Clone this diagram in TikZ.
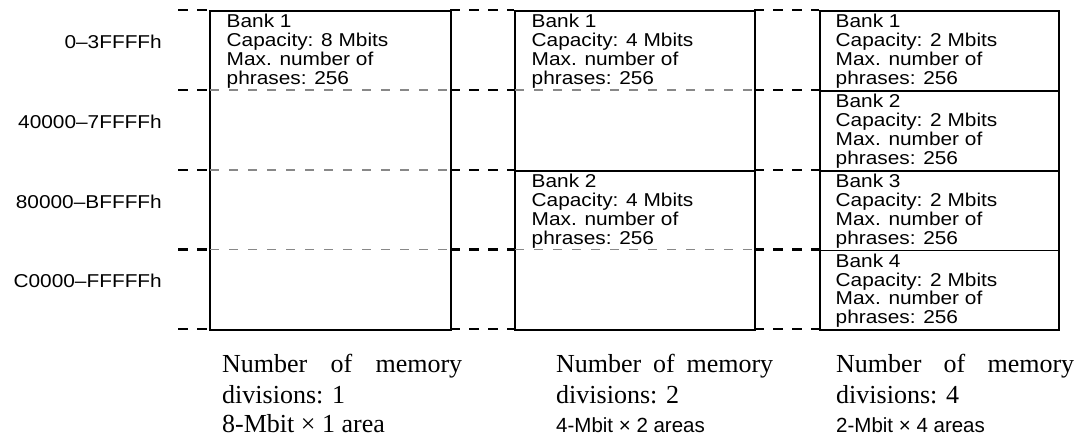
\documentclass[tikz,border=0pt]{standalone}
\usepackage{fontspec}
\newfontfamily\labfont[FakeStretch=1.12]{Liberation Sans}
\newfontfamily\plainsans{Liberation Sans}
\newfontfamily\capfont{Liberation Serif}
\definecolor{dgray}{RGB}{136,136,136}
\begin{document}
\begin{tikzpicture}[x=1pt,y=1pt,
  blk/.style={line width=2.3pt, dash pattern=on 10pt off 9pt},
  gry/.style={line width=1.9pt, draw=dgray, dash pattern=on 9pt off 10pt},
  boxst/.style={draw, line width=1.8pt, rectangle, inner sep=0pt, anchor=north west},
  banktxt/.style={font=\labfont\fontsize{18.6}{18.8}\selectfont, align=left, anchor=base west, inner sep=0pt},
  addr/.style={font=\labfont\fontsize{18.6}{18.8}\selectfont, anchor=base east, inner sep=0pt},
  capl/.style={font=\capfont\fontsize{26}{28}\selectfont, anchor=base west, inner sep=0pt},
  caps/.style={font=\plainsans\fontsize{20.5}{22}\selectfont, anchor=base west, inner sep=0pt}
]
\useasboundingbox (0,0) rectangle (1077,-437);

% black dashed level lines in the gaps
\foreach \y in {10,90,170,249.5,329}{
  \draw[blk] (178,-\y) -- (209,-\y);
  \draw[blk] (450,-\y) -- (514,-\y);
  \draw[blk] (754,-\y) -- (819,-\y);
}

% boxes
\node[boxst, minimum width=241pt, minimum height=319pt] (b1) at (209,-10) {};
\node[boxst, minimum width=240pt, minimum height=160pt] (b21) at (514,-10) {};
\node[boxst, minimum width=240pt, minimum height=159pt] (b22) at (514,-170) {};
\node[boxst, minimum width=239pt, minimum height=80pt] (b31) at (819,-10) {};
\node[boxst, minimum width=239pt, minimum height=80pt] (b32) at (819,-90) {};
\node[boxst, minimum width=239pt, minimum height=79.5pt] (b33) at (819,-170) {};
\node[boxst, minimum width=239pt, minimum height=79.5pt] (b34) at (819,-249.5) {};

% gray dashed interior dividers
\foreach \y in {90,170,249.5}{
  \draw[gry] (210,-\y) -- (449,-\y);
}
\draw[gry] (515,-90) -- (753,-90);
\draw[gry] (515,-249.5) -- (753,-249.5);

% bank texts (anchor = baseline of last line)
\node[banktxt] (t1) at (226.5,-84.1) {Bank 1\\Capacity: 8 Mbits\\Max. number of\\phrases: 256};
\node[banktxt] (t21) at (531.5,-84.1) {Bank 1\\Capacity: 4 Mbits\\Max. number of\\phrases: 256};
\node[banktxt] (t22) at (531.5,-244.1) {Bank 2\\Capacity: 4 Mbits\\Max. number of\\phrases: 256};
\node[banktxt] (t31) at (835.5,-84.1) {Bank 1\\Capacity: 2 Mbits\\Max. number of\\phrases: 256};
\node[banktxt] (t32) at (835.5,-164.1) {Bank 2\\Capacity: 2 Mbits\\Max. number of\\phrases: 256};
\node[banktxt] (t33) at (835.5,-244.1) {Bank 3\\Capacity: 2 Mbits\\Max. number of\\phrases: 256};
\node[banktxt] (t34) at (835.5,-323.6) {Bank 4\\Capacity: 2 Mbits\\Max. number of\\phrases: 256};

% address labels
\node[addr] (a1) at (162,-48) {0–3FFFFh};
\node[addr] (a2) at (162,-128) {40000–7FFFFh};
\node[addr] (a3) at (162,-208) {80000–BFFFFh};
\node[addr] (a4) at (162,-287.5) {C0000–FFFFFh};

% captions
\node[capl] (c11) at (222,-372) {\makebox[240pt][s]{Number of memory}};
\node[capl] (c12) at (222,-403) {divisions: 1};
\node[capl] (c13) at (222,-432.5) {8-Mbit × 1 area};
\node[capl] (c21) at (556,-372) {\makebox[217pt][s]{Number of memory}};
\node[capl] (c22) at (556,-403) {divisions: 2};
\node[caps] (c23) at (556,-432.5) {4-Mbit × 2 areas};
\node[capl] (c31) at (836,-372) {\makebox[238pt][s]{Number of memory}};
\node[capl] (c32) at (836,-403) {divisions: 4};
\node[caps] (c33) at (836,-432.5) {2-Mbit × 4 areas};
\end{tikzpicture}
\end{document}
